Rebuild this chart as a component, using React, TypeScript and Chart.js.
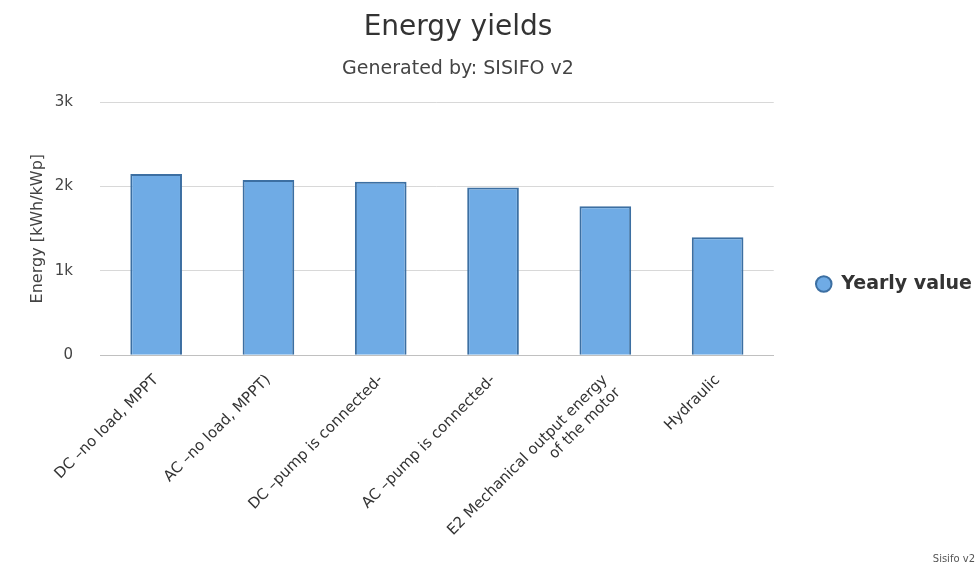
import React, { useEffect, useRef } from "react";
import { Chart, registerables } from "chart.js";

Chart.register(...registerables);

const categories: (string | string[])[] = [
  "DC –no load, MPPT",
  "AC –no load, MPPT)",
  "DC –pump is connected-",
  "AC –pump is connected-",
  ["E2 Mechanical output energy", "of the motor"],
  "Hydraulic",
];
const yearlyValues = [2147, 2076, 2056, 1989, 1767, 1400];
const seriesName = "Yearly value";
const chartTitle = "Energy yields";
const chartSubtitle = "Generated by: SISIFO v2";
const yAxisTitle = "Energy [kWh/kWp]";
const creditText = "Sisifo v2";

const FONT = "'DejaVu Sans', Verdana, sans-serif";

const headerPlugin = {
  id: "header",
  afterDraw(chart: any) {
    const ctx = chart.ctx;
    ctx.save();
    ctx.textAlign = "center";
    ctx.textBaseline = "alphabetic";
    ctx.fillStyle = "#333333";
    ctx.font = `28px ${FONT}`;
    ctx.fillText(chartTitle, 458, 35);
    ctx.fillStyle = "#444444";
    ctx.font = `19px ${FONT}`;
    ctx.fillText(chartSubtitle, 458, 74);
    ctx.textAlign = "right";
    ctx.fillStyle = "#555555";
    ctx.font = `10px ${FONT}`;
    ctx.fillText(creditText, 975, 562);
    ctx.restore();
  },
};

export default function App() {
  const ref = useRef<HTMLCanvasElement>(null);
  useEffect(() => {
    document.body.style.margin = "0";
    const chart = new Chart(ref.current!, {
      type: "bar",
      data: {
        labels: categories,
        datasets: [
          {
            label: seriesName,
            data: yearlyValues,
            backgroundColor: "#6fabe5",
            borderColor: "#3c6fa2",
            borderWidth: 2,
            barPercentage: 0.46,
            categoryPercentage: 1,
          },
        ],
      },
      options: {
        responsive: false,
        animation: false,
        layout: { padding: { top: 0, right: -5, bottom: 1, left: 28 } },
        plugins: {
          // empty title used only to reserve the header space drawn by headerPlugin
          title: {
            display: true,
            text: "",
            font: { size: 10, lineHeight: 1 },
            padding: { top: 92, bottom: 0 },
          },
          tooltip: { enabled: false },
          legend: {
            position: "right",
            labels: {
              usePointStyle: true,
              pointStyle: "circle",
              boxWidth: 16,
              boxHeight: 11,
              padding: 42,
              color: "#333333",
              font: { family: FONT, size: 19, weight: "bold" },
            },
          },
        },
        scales: {
          x: {
            grid: { display: false, drawTicks: false },
            border: { display: true, color: "#c0c0c0", width: 1 },
            afterFit: (s: any) => {
              s.paddingLeft = 0;
              s.paddingRight = 0;
            },
            ticks: {
              minRotation: 45,
              maxRotation: 45,
              padding: 16,
              color: "#333333",
              font: { family: FONT, size: 15 },
              autoSkip: false,
            },
          },
          y: {
            min: 0,
            max: 3000,
            border: { display: false },
            grid: { color: "#d8d8d8", drawTicks: false },
            afterFit: (s: any) => {
              s.width = 72;
            },
            ticks: {
              stepSize: 1000,
              padding: 27,
              color: "#444444",
              font: { family: FONT, size: 15 },
              callback: (v: any) => (v === 0 ? "0" : v / 1000 + "k"),
            },
            title: {
              display: true,
              text: yAxisTitle,
              color: "#444444",
              font: { family: FONT, size: 16 },
              padding: { top: 0, bottom: 0 },
            },
          },
        },
      },
      plugins: [headerPlugin],
    });
    return () => chart.destroy();
  }, []);
  return (
    <div style={{ width: 977, height: 569 }}>
      <canvas ref={ref} width={977} height={569} />
    </div>
  );
}
